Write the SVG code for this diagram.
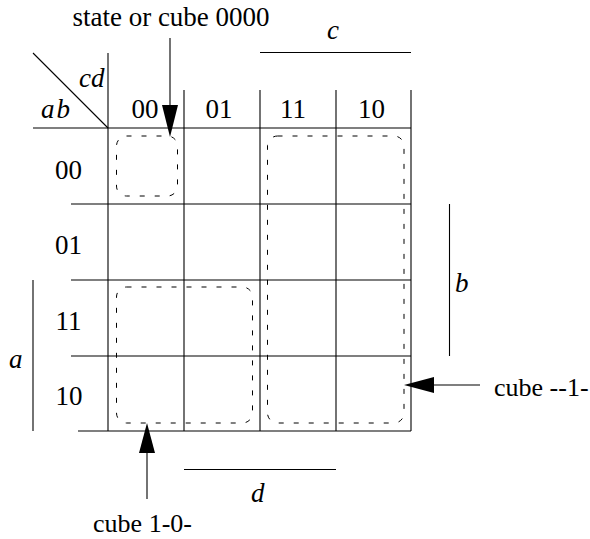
<svg xmlns="http://www.w3.org/2000/svg" width="590" height="539" viewBox="0 0 590 539">
<style>
.ln{stroke:#000;stroke-width:1.1;fill:none}
.dash{stroke:#000;stroke-width:1;fill:none;stroke-dasharray:5 10}
.ah{fill:#000;stroke:none}
</style>
<rect width="590" height="539" fill="#fff"/>
<g id="grid">
<line class="ln" x1="33" y1="53" x2="108" y2="128"/>
<line class="ln" x1="33" y1="128" x2="411" y2="128"/>
<line class="ln" x1="108" y1="53" x2="108" y2="431"/>
<line class="ln" x1="184" y1="90" x2="184" y2="431"/>
<line class="ln" x1="260" y1="90" x2="260" y2="431"/>
<line class="ln" x1="336" y1="90" x2="336" y2="431"/>
<line class="ln" x1="411" y1="90" x2="411" y2="431"/>
<line class="ln" x1="71" y1="204" x2="411" y2="204"/>
<line class="ln" x1="71" y1="280" x2="411" y2="280"/>
<line class="ln" x1="71" y1="356" x2="411" y2="356"/>
<line class="ln" x1="78" y1="431" x2="411" y2="431"/>
</g>
<g font-family="'Liberation Serif', 'Times New Roman', serif" font-size="27" fill="#000">
<g id="corner-labels" font-style="italic">
<text x="79" y="87">cd</text>
<text x="41" y="118" letter-spacing="2">ab</text>
</g>
<g id="col-headers" text-anchor="middle">
<text x="145" y="118">00</text>
<text x="219" y="118">01</text>
<text x="293" y="118">11</text>
<text x="371.5" y="118">10</text>
</g>
<g id="row-headers" text-anchor="middle">
<text x="68.5" y="179">00</text>
<text x="68.5" y="254">01</text>
<text x="68.5" y="330">11</text>
<text x="69" y="405">10</text>
</g>
<g id="var-c">
<line class="ln" x1="260" y1="52.5" x2="411" y2="52.5"/>
<text x="333" y="39" text-anchor="middle" font-style="italic">c</text>
</g>
<g id="var-b">
<line class="ln" x1="449.5" y1="204" x2="449.5" y2="356"/>
<text x="455" y="292" font-style="italic">b</text>
</g>
<g id="var-a">
<line class="ln" x1="33" y1="280" x2="33" y2="431"/>
<text x="9" y="368" font-style="italic">a</text>
</g>
<g id="var-d">
<line class="ln" x1="184" y1="469.5" x2="336" y2="469.5"/>
<text x="251" y="502" font-style="italic">d</text>
</g>
<g id="labels">
<text x="171" y="26" text-anchor="middle">state or cube 0000</text>
<text x="494" y="396" font-size="26">cube --1-</text>
<text x="142.5" y="532" font-size="26" text-anchor="middle">cube 1-0-</text>
</g>
</g>
<g id="cube-0000">
<rect class="dash" x="116.5" y="136" width="61" height="60" rx="10"/>
</g>
<g id="cube-1-0-">
<rect class="dash" x="116.5" y="287" width="136" height="136" rx="10"/>
</g>
<g id="cube--1-">
<rect class="dash" x="267.5" y="136" width="136.5" height="287" rx="10"/>
</g>
<g id="connectors">
<line class="ln" x1="170" y1="38" x2="170" y2="106"/>
<polygon class="ah" points="162,105 178,105 170,137"/>
<line class="ln" x1="480" y1="385" x2="433" y2="385"/>
<polygon class="ah" points="434,377 434,393 404,385"/>
<line class="ln" x1="147" y1="499" x2="147" y2="452"/>
<polygon class="ah" points="139,453 155,453 147,423"/>
</g>
</svg>
